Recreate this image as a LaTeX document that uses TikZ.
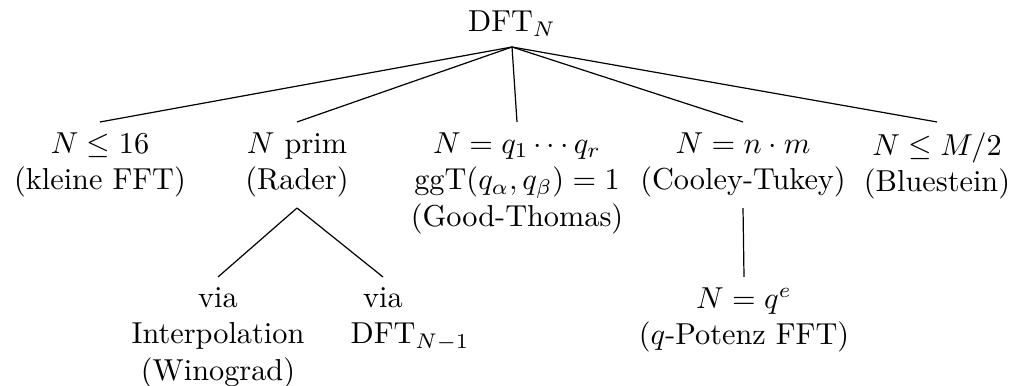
\documentclass[tikz,border=0pt]{standalone}
\begin{document}
\begin{tikzpicture}[x=0.33pt,y=-0.33pt,
  box/.style={align=center, inner sep=3.33pt},
  edge/.style={draw=black, line width=0.4pt}]
\useasboundingbox (0,0) rectangle (1013,386);
\node[box, anchor=south] (root) at (512,47) {DFT$_N$};
\node[box, anchor=north] (small) at (100,122) {$N\leq 16$\\(kleine FFT)};
\node[box, anchor=north] (rader) at (297,122) {$N$ prim\\(Rader)};
\node[box, anchor=north] (gt) at (517,122) {$N=q_1\cdots q_r$\\ggT$(q_\alpha,q_\beta)=1$\\(Good-Thomas)};
\node[box, anchor=north] (ct) at (743,122) {$N=n\cdot m$\\(Cooley-Tukey)};
\node[box, anchor=north] (blue) at (937,122) {$N\leq M/2$\\(Bluestein)};
\node[box, anchor=north] (wino) at (218,277) {via\\Interpolation\\(Winograd)};
\node[box, anchor=north] (rec) at (383,277) {via\\DFT\rlap{$_{N-1}$}};
\node[box, anchor=north] (qpow) at (744,277) {$N=q^e$\\($q$-Potenz FFT)};
\draw[edge] (root.south) -- (small.north);
\draw[edge] (root.south) -- (rader.north);
\draw[edge] (root.south) -- (gt.north);
\draw[edge] (root.south) -- (ct.north);
\draw[edge] (root.south) -- (blue.north);
\draw[edge] (rader.south) -- (wino.north);
\draw[edge] (rader.south) -- (rec.north);
\draw[edge] (ct.south) -- (qpow.north);
\end{tikzpicture}
\end{document}
